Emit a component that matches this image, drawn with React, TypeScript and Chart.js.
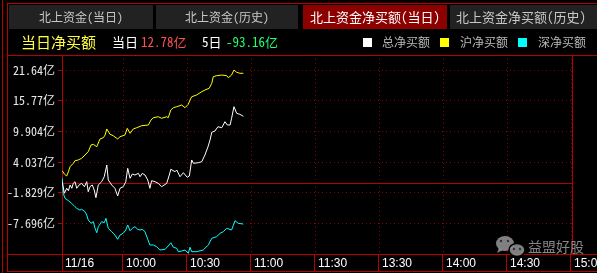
import React, { useEffect, useRef } from 'react';
import { Chart, registerables } from 'chart.js';

Chart.register(...registerables);

// ---------- data ----------
const tabLabels = ['北上资金(当日)', '北上资金(历史)', '北上资金净买额(当日)', '北上资金净买额(历史)'];
const activeTab = 2;
const headerTitle = '当日净买额';
const todayLabel = '当日';
const todayValue = '12.78亿';
const fiveDayLabel = '5日';
const fiveDayValue = '-93.16亿';
const seriesNames = ['总净买额', '沪净买额', '深净买额'];
const seriesColors = ['#ffffff', '#ffff00', '#00ffff'];

const timeTickValues = [1.4, 30, 60, 90, 120, 150, 180, 210, 240];
const timeTickLabels = ['11/16', '10:00', '10:30', '11:00', '11:30', '13:30', '14:00', '14:30', '15:00'];
const yTickValues = [21.64, 15.77, 9.904, 4.037, -1.829, -7.696];
const yTickLabels = ['21.64亿', '15.77亿', '9.904亿', '4.037亿', '-1.829亿', '-7.696亿'];
const yMin = -13.563;
const yMax = 24.51;
const watermarkText = '益盟好股';

// minutes since 9:30 and values (亿)
const totalMinutes = [1.5, 2.5, 3.6, 4.4, 5.2, 6.0, 6.7, 7.5, 8.3, 9.4, 10.6, 11.9, 13.0, 13.7, 14.5, 15.6, 16.5, 17.3, 18.4, 20.0, 21.2, 22.4, 23.1, 24.7, 26.2, 27.5, 28.6, 30.1, 31.3, 32.2, 33.3, 34.4, 35.6, 37.2, 38.0, 39.0, 40.3, 41.6, 42.6, 43.4, 45.0, 46.5, 48.1, 50.5, 51.7, 52.4, 54.4, 55.2, 56.7, 58.3, 60.1, 61.1, 62.2, 63.0, 65.3, 66.9, 68.4, 69.8, 70.8, 71.6, 73.1, 74.5, 76.3, 77.8, 78.9, 80.2, 80.9, 82.0, 83.3, 84.8, 86.4];
const totalValues = [0.27, -1.95, -0.99, -1.45, -0.36, -0.99, -0.04, 0.27, -0.99, -0.36, -0.04, -0.69, 0.27, -1.65, -0.69, -0.36, -1.32, -2.79, -0.36, 0.27, 1.22, 3.46, 0.59, -0.36, -0.99, -2.47, -0.99, -0.69, 0.27, 2.83, 0.92, 1.74, 1.55, 1.87, 1.22, 1.87, 1.55, 0.59, -0.99, 0.46, 0.27, -0.04, -0.69, -0.04, 1.55, 2.64, 2.18, 2.51, 1.22, 1.99, 1.11, 1.36, 4.42, 3.79, 3.90, 4.09, 5.38, 6.91, 8.25, 9.72, 9.97, 10.79, 10.60, 11.75, 11.12, 11.12, 12.40, 14.62, 13.35, 13.16, 12.78];

const shMinutes = [1.5, 2.5, 3.6, 4.4, 5.2, 6.7, 7.5, 9.0, 10.6, 12.2, 13.7, 15.0, 16.1, 17.7, 19.2, 20.8, 21.6, 22.4, 23.9, 25.4, 27.5, 28.6, 30.9, 32.0, 33.3, 34.8, 36.4, 38.8, 41.9, 43.1, 44.2, 46.5, 48.1, 50.5, 51.2, 52.4, 53.6, 55.2, 57.5, 59.1, 60.6, 61.4, 62.2, 64.5, 66.9, 68.4, 70.4, 71.6, 72.3, 73.9, 76.3, 78.6, 79.4, 80.9, 82.0, 83.3, 84.8, 86.4];
const shValues = [2.37, 1.74, 1.36, 2.18, 3.14, 3.79, 4.29, 4.42, 4.74, 5.38, 6.01, 7.29, 7.42, 6.96, 8.44, 8.69, 9.20, 10.35, 9.34, 9.07, 8.44, 8.88, 9.20, 10.48, 9.53, 10.35, 10.60, 10.98, 11.12, 12.07, 12.51, 12.70, 12.40, 12.70, 12.51, 13.99, 14.43, 14.62, 14.94, 14.43, 15.08, 15.90, 16.53, 16.86, 17.49, 17.81, 18.14, 19.09, 20.36, 20.55, 20.68, 20.55, 20.17, 20.68, 21.64, 21.20, 21.01, 21.01];

const szMinutes = [1.5, 2.0, 2.8, 4.4, 5.9, 7.5, 8.3, 9.8, 10.6, 12.2, 13.0, 13.7, 15.0, 16.1, 16.9, 17.7, 18.4, 20.0, 21.2, 22.0, 23.1, 24.7, 26.2, 27.5, 28.6, 30.1, 31.3, 32.2, 33.3, 34.4, 35.6, 36.9, 38.0, 39.0, 40.3, 41.6, 42.6, 44.2, 45.8, 47.3, 49.7, 51.2, 52.4, 53.6, 55.2, 55.9, 57.5, 59.1, 60.6, 61.4, 62.2, 64.5, 67.6, 70.0, 71.6, 73.9, 75.5, 77.0, 78.6, 80.9, 82.5, 84.0, 86.4];
const szValues = [0.98, -1.95, -2.91, -3.37, -3.86, -4.52, -4.82, -5.15, -5.01, -5.47, -6.10, -7.06, -7.69, -7.38, -8.65, -9.49, -8.34, -7.38, -7.58, -6.73, -8.65, -9.30, -9.93, -10.75, -9.93, -9.60, -8.97, -8.01, -9.11, -8.65, -8.34, -8.84, -8.97, -8.84, -9.30, -10.75, -11.84, -11.84, -12.17, -12.80, -12.67, -12.03, -11.40, -12.28, -12.47, -13.12, -12.99, -12.80, -13.43, -12.28, -13.12, -13.12, -12.80, -11.84, -10.56, -10.25, -9.60, -9.30, -8.65, -8.97, -7.19, -7.69, -7.83];

// ---------- styles ----------
const FRAME = '#b80000';
const GRID = '#8a0000';
const MONO = '"Noto Sans Mono CJK SC", "Noto Sans CJK SC", monospace';
const CJK = '"Noto Sans CJK SC", sans-serif';

const pairs = (xs: number[], ys: number[]) => xs.map((x, i) => ({ x, y: ys[i] }));

const decorPlugin = {
  id: 'decor',
  beforeDraw(chart: any) {
    const ctx = chart.ctx as CanvasRenderingContext2D;
    ctx.save();
    ctx.fillStyle = '#000';
    ctx.fillRect(0, 0, chart.width, chart.height);

    // tabs
    const tabRects = [[9, 153], [156, 298], [303, 447], [450, 597]];
    const tabCenters = [81, 227, 375, 521];
    tabRects.forEach(([a, b], i) => {
      ctx.fillStyle = i === activeTab ? '#8c0000' : '#222222';
      ctx.fillRect(a, 5, b - a, 24);
      ctx.fillStyle = i === activeTab ? '#ffffff' : '#c8c8c8';
      ctx.font = `${i >= 2 ? 13 : 12}px ${MONO}`;
      ctx.textAlign = 'center';
      ctx.textBaseline = 'middle';
      ctx.fillText(tabLabels[i], tabCenters[i], 17.5);
    });

    // header
    ctx.textAlign = 'left';
    ctx.textBaseline = 'middle';
    ctx.font = `15px ${CJK}`;
    ctx.fillStyle = '#ffff40';
    ctx.fillText(headerTitle, 21, 42.5);
    ctx.font = `13px ${MONO}`;
    ctx.fillStyle = '#ffffff';
    ctx.fillText(todayLabel, 112, 42.5);
    ctx.fillStyle = '#ff5050';
    ctx.fillText(todayValue, 141, 42.5);
    ctx.fillStyle = '#ffffff';
    ctx.fillText(fiveDayLabel, 202, 42.5);
    ctx.fillStyle = '#20ff70';
    ctx.fillText(fiveDayValue, 226, 42.5);

    // legend
    const boxX = [363, 440, 518];
    const textX = [382, 460, 538];
    ctx.font = `12px ${CJK}`;
    chart.data.datasets.forEach((ds: any, i: number) => {
      ctx.fillStyle = ds.borderColor;
      ctx.fillRect(boxX[i], 38, 9, 9);
      ctx.fillStyle = '#b8b8b8';
      ctx.fillText(ds.label, textX[i], 42.5);
    });
    ctx.restore();
  },
  beforeDatasetsDraw(chart: any) {
    const ctx = chart.ctx as CanvasRenderingContext2D;
    const xs = chart.scales.x;
    const ys = chart.scales.y;
    ctx.save();
    ctx.fillStyle = FRAME;
    ctx.fillRect(2, 0, 1, 273);
    ctx.fillRect(7, 3, 590, 1);
    ctx.fillRect(7, 3, 1, 268);
    ctx.fillRect(7, 55, 590, 1);
    ctx.fillRect(7, 254, 590, 1);
    ctx.fillRect(7, 271, 590, 1);
    ctx.fillRect(62, 55, 1, 216);
    ctx.fillRect(572, 55, 1, 199);
    // zero line
    const y0 = Math.round(ys.getPixelForValue(0));
    ctx.fillRect(62, y0, 510, 1);
    // axis separators
    timeTickValues.forEach((v, i) => {
      if (i === 0) return;
      const px = Math.round(xs.getPixelForValue(v)) - 1;
      ctx.fillRect(px, 254, 1, 17);
    });
    ctx.restore();
  },
  afterDraw(chart: any) {
    const ctx = chart.ctx as CanvasRenderingContext2D;
    ctx.save();
    // watermark icon
    ctx.fillStyle = 'rgba(150,150,150,0.85)';
    ctx.beginPath();
    ctx.ellipse(505, 243.5, 9, 7.5, 0, 0, Math.PI * 2);
    ctx.fill();
    ctx.beginPath();
    ctx.moveTo(499, 248); ctx.lineTo(497, 253); ctx.lineTo(503, 250); ctx.fill();
    ctx.strokeStyle = '#000';
    ctx.lineWidth = 1.5;
    ctx.beginPath();
    ctx.ellipse(517, 250, 8, 6.5, 0, 0, Math.PI * 2);
    ctx.fill();
    ctx.stroke();
    ctx.fillStyle = '#333';
    [[501, 241], [508, 241], [514, 249], [520, 249]].forEach(([x, y]) => {
      ctx.beginPath(); ctx.arc(x, y, 1.2, 0, Math.PI * 2); ctx.fill();
    });
    ctx.fillStyle = 'rgba(150,150,150,0.9)';
    ctx.font = `14px ${CJK}`;
    ctx.textAlign = 'left';
    ctx.textBaseline = 'middle';
    ctx.fillText(watermarkText, 528, 247);
    ctx.restore();
  },
};

export default function App() {
  const ref = useRef<HTMLCanvasElement>(null);
  useEffect(() => {
    document.body.style.margin = '0';
    document.body.style.background = '#000';
    const canvas = ref.current!;
    const chart = new Chart(canvas, {
      type: 'line',
      data: {
        datasets: [
          { label: seriesNames[0], data: pairs(totalMinutes, totalValues), borderColor: seriesColors[0], backgroundColor: seriesColors[0], borderWidth: 1, pointRadius: 0, tension: 0 },
          { label: seriesNames[1], data: pairs(shMinutes, shValues), borderColor: seriesColors[1], backgroundColor: seriesColors[1], borderWidth: 1, pointRadius: 0, tension: 0 },
          { label: seriesNames[2], data: pairs(szMinutes, szValues), borderColor: seriesColors[2], backgroundColor: seriesColors[2], borderWidth: 1, pointRadius: 0, tension: 0 },
        ],
      },
      options: {
        responsive: false,
        devicePixelRatio: 1,
        animation: false,
        events: [],
        layout: { padding: { top: 55, left: 0, right: 26, bottom: 0 } },
        plugins: { legend: { display: false }, tooltip: { enabled: false } },
        scales: {
          x: {
            type: 'linear',
            min: 1.4,
            max: 240,
            afterBuildTicks: (s: any) => { s.ticks = timeTickValues.map((v) => ({ value: v })); },
            afterFit: (s: any) => { s.height = 19; s.paddingLeft = 0; s.paddingRight = 0; },
            grid: { color: GRID, lineWidth: 1, drawTicks: false },
            border: { display: false, dash: [1, 3] },
            ticks: {
              autoSkip: false,
              maxRotation: 0,
              minRotation: 0,
              align: 'start',
              labelOffset: 3,
              padding: 2,
              color: '#ffffff',
              font: { family: '"Liberation Sans", Arial, sans-serif', size: 12 },
              callback: (_v: any, i: number) => timeTickLabels[i],
            },
          },
          y: {
            type: 'linear',
            min: yMin,
            max: yMax,
            afterBuildTicks: (s: any) => { s.ticks = yTickValues.map((v) => ({ value: v })); },
            afterFit: (s: any) => { s.width = 62; s.paddingTop = 0; s.paddingBottom = 0; },
            grid: { color: GRID, lineWidth: 1, drawTicks: true, tickLength: 4, tickColor: FRAME, tickWidth: 1 },
            border: { display: false, dash: [1, 3] },
            ticks: {
              padding: 3,
              color: '#e8e8e8',
              font: { family: MONO, size: 12 },
              callback: (_v: any, i: number) => yTickLabels[i],
            },
          },
        },
      },
      plugins: [decorPlugin],
    } as any);
    return () => chart.destroy();
  }, []);
  return (
    <div style={{ position: 'absolute', left: 0, top: 0, width: 597, height: 273, background: '#000' }}>
      <canvas ref={ref} width={597} height={273} style={{ display: 'block', width: 597, height: 273 }} />
    </div>
  );
}
